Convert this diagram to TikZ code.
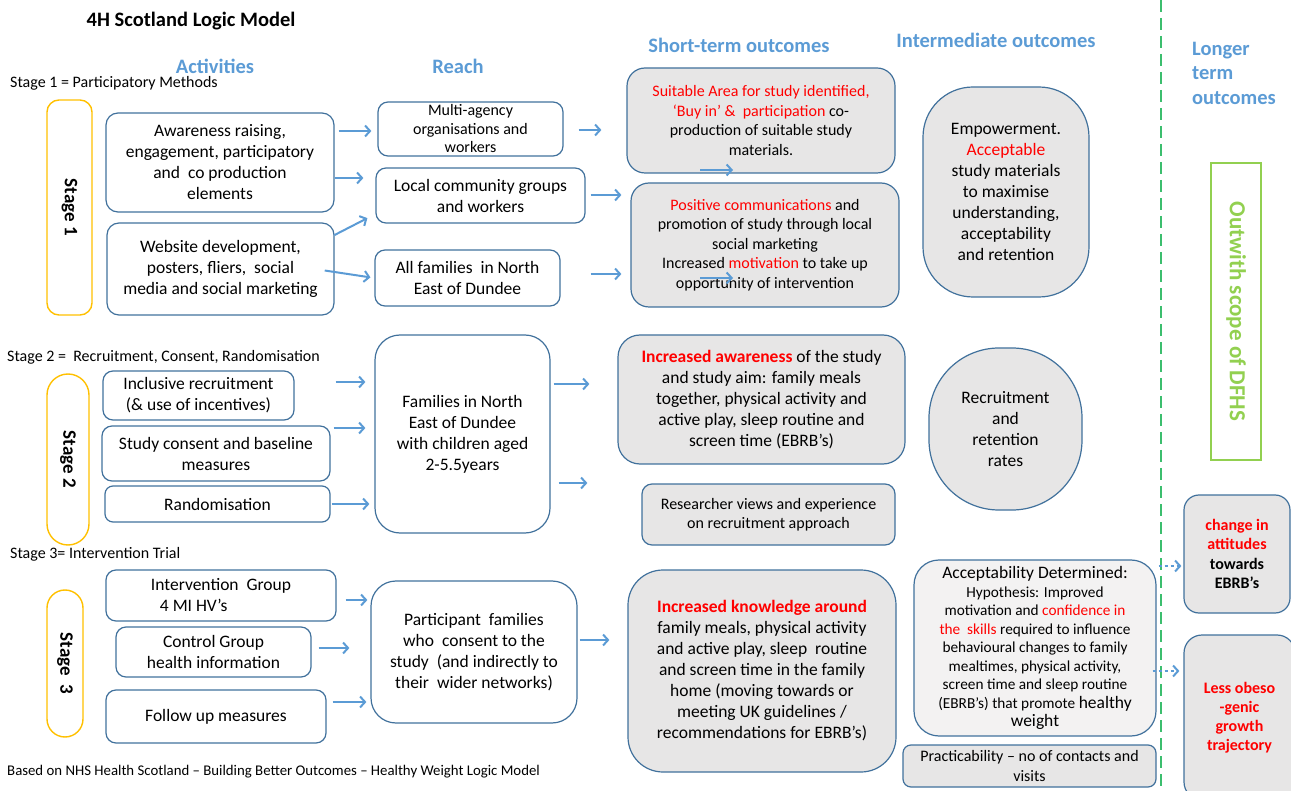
\documentclass[tikz,border=0pt]{standalone}
\usepackage{fontspec}
\setmainfont{Carlito}
\usetikzlibrary{arrows.meta}
\definecolor{boxblue}{RGB}{65,113,156}
\definecolor{arrblue}{RGB}{91,155,213}
\definecolor{boxgrey}{RGB}{231,230,230}
\definecolor{pillorange}{RGB}{255,192,0}
\definecolor{scopegreen}{RGB}{146,208,80}
\definecolor{lineg}{RGB}{60,190,110}
\newcommand{\fsbig}{\fontsize{17.5}{21}\selectfont}
\newcommand{\fssmall}{\fontsize{16}{19.5}\selectfont}
\newcommand{\hl}[1]{\textcolor{red}{#1}}
\tikzset{
    box/.style={draw=boxblue, line width=1.2pt, rounded corners=12pt, align=center, inner sep=2pt, font=\fsbig},
    outbox/.style={box, fill=boxgrey},
    pill/.style={draw=pillorange, line width=1.4pt, font=\fontsize{19}{22}\selectfont\bfseries, rotate=-90},
    head/.style={text=arrblue, inner sep=0pt, font=\fontsize{20.5}{24.5}\selectfont\bfseries},
    arr/.style={draw=arrblue, line width=2pt, -{Straight Barb[length=5pt,width=11pt]}},
}

\begin{document}
\begin{tikzpicture}[x=1pt,y=-1pt]
\useasboundingbox (0,0) rectangle (1291,791);
\node[font=\fontsize{20.5}{24}\selectfont\bfseries] (title) at (191,21) {4H Scotland Logic Model};
\node[head] (hact) at (215,66) {Activities};
\node[head] (hreach) at (458,66) {Reach};
\node[head] (hshort) at (739,45) {Short-term outcomes};
\node[head] (hint) at (996,40) {Intermediate outcomes};
\node[head, align=left, anchor=west] (hlong) at (1192,73) {Longer\\term\\outcomes};
\node[font=\fontsize{16}{19}\selectfont, anchor=west, inner sep=0] (cap1) at (10,83) {Stage 1 = Participatory Methods};
\node[font=\fontsize{16}{19}\selectfont, anchor=west, inner sep=0] (cap2) at (7,357) {Stage 2 =~ Recruitment, Consent, Randomisation};
\node[font=\fontsize{16}{19}\selectfont, anchor=west, inner sep=0] (cap3) at (10,554) {Stage 3= Intervention Trial};
\node[font=\fontsize{14.8}{18}\selectfont, anchor=west, inner sep=0] (foot) at (7,772) {Based on NHS Health Scotland -- Building Better Outcomes -- Healthy Weight Logic Model};

\draw[lineg, line width=2.5pt, dash pattern=on 12pt off 6pt] (1161,0) -- (1161,791);

\node[pill, minimum width=215, minimum height=45, rounded corners=12pt] (st1) at (69.5,207.5) {Stage 1};
\node[pill, minimum width=171, minimum height=42, rounded corners=21pt] (st2) at (68,459.5) {Stage 2};
\node[pill, minimum width=147, minimum height=36, rounded corners=18pt] (st3) at (65,663.5) {Stage~ 3};
\node[rotate=-90, draw=scopegreen, line width=1.2pt, minimum width=297, minimum height=50, text=scopegreen, font=\fontsize{23}{26}\selectfont\bfseries] (scope) at (1236,311.5) {Outwith scope of DFHS};

\node[box, minimum width=228, minimum height=99] (A1) at (220,162.5) {Awareness raising,\\ engagement, participatory\\ and~ co production\\ elements};
\node[box, minimum width=227, minimum height=92] (A2) at (220.5,269) {Website development,\\ posters, fliers,~ social\\ media and social marketing};
\node[box, font=\fontsize{16}{18.5}\selectfont, minimum width=185, minimum height=54, rounded corners=10pt] (R1) at (470.5,129) {Multi-agency\\ organisations and\\ workers};
\node[box, minimum width=209, minimum height=55, rounded corners=10pt] (R2) at (480.5,195.5) {Local community groups\\ and workers};
\node[box, minimum width=185, minimum height=56, rounded corners=10pt] (R3) at (467.5,278) {All families~ in North\\ East of Dundee};
\node[outbox, font=\fssmall, minimum width=268, minimum height=105, rounded corners=18pt] (S1) at (761,120.5) {\hl{Suitable Area for study identified,}\\ \hl{`Buy in' \&~ participation} co-\\ production of suitable study\\ materials.};
\node[outbox, font=\fssmall, minimum width=268, minimum height=124, rounded corners=18pt] (S2) at (765,245) {\hl{Positive communications} and\\ promotion of study through local\\ social marketing\\ Increased \hl{motivation} to take up\\ opportunity of intervention};
\node[outbox, minimum width=166, minimum height=210, rounded corners=50pt] (I1) at (1006,192) {Empowerment.\\ \hl{Acceptable}\\ study materials\\ to maximise\\ understanding,\\ acceptability\\ and retention};

\node[box, minimum width=191, minimum height=49, rounded corners=10pt] (A3) at (198.5,395.5) {Inclusive recruitment\\ (\& use of incentives)};
\node[box, minimum width=228, minimum height=55, rounded corners=10pt] (A4) at (216,453.5) {Study consent and baseline\\ measures};
\node[box, minimum width=225, minimum height=36, rounded corners=8pt] (A5) at (217.5,504) {Randomisation};
\node[box, minimum width=175, minimum height=198, rounded corners=25pt] (R4) at (462.5,434) {Families in North\\ East of Dundee\\ with children aged\\ 2-5.5years};
\node[outbox, minimum width=287, minimum height=129, rounded corners=22pt] (S3) at (761.5,399.5) {\textbf{\hl{Increased awareness}} of the study\\ and study aim: family meals\\ together, physical activity and\\ active play, sleep routine and\\ screen time (EBRB's)};
\node[outbox, font=\fssmall, minimum width=253, minimum height=61, rounded corners=10pt] (S4) at (768.5,514.5) {Researcher views and experience\\ on recruitment approach};
\node[outbox, minimum width=153, minimum height=162, rounded corners=70pt] (I2) at (1005.5,429) {Recruitment\\ and\\ retention\\ rates};

\node[box, align=left, minimum width=230, minimum height=51, rounded corners=10pt] (A6) at (221,595.5) {Intervention~ Group\\ \hspace*{9pt}4 MI HV's};
\node[box, minimum width=195, minimum height=50, rounded corners=10pt] (A7) at (213.5,652) {Control Group\\ health information};
\node[box, minimum width=220, minimum height=53, rounded corners=10pt] (A8) at (216,716.5) {Follow up measures};
\node[box, minimum width=206, minimum height=142, rounded corners=25pt] (R5) at (474,652) {Participant~ families\\ who~ consent to the\\ study~ (and indirectly to\\ their~ wider networks)};
\node[outbox, minimum width=268, minimum height=202, rounded corners=35pt] (S5) at (762,671) {\textbf{\hl{Increased knowledge around}}\\ family meals, physical activity\\ and active play, sleep~ routine\\ and screen time in the family\\ home (moving towards or\\ meeting UK guidelines /\\ recommendations for EBRB's)};
\node[box, fill=boxgrey!50, font=\fontsize{15.3}{18.5}\selectfont, minimum width=242, minimum height=176, rounded corners=25pt] (I3) at (1035,648) {{\fsbig Acceptability Determined:}\\ Hypothesis: Improved\\ motivation and \hl{confidence in}\\ \hl{the~ skills} required to influence\\ behavioural changes to family\\ mealtimes, physical activity,\\ screen time and sleep routine\\ (EBRB's) that promote {\fsbig healthy}\\ {\fsbig weight}};
\node[outbox, font=\fssmall, minimum width=253, minimum height=42, rounded corners=8pt] (I4) at (1029.5,766) {Practicability -- no of contacts and\\ visits};
\node[outbox, font=\fontsize{16}{19.5}\selectfont\bfseries, minimum width=106, minimum height=118, rounded corners=15pt] (L1) at (1237,554) {\hl{change in}\\ \hl{attitudes}\\ towards\\ EBRB's};
\node[outbox, font=\fontsize{16}{19}\selectfont\bfseries, minimum width=111, minimum height=165, rounded corners=18pt] (L2) at (1239.5,717.5) {\hl{Less obeso}\\ \hl{-genic}\\ \hl{growth}\\ \hl{trajectory}};

\draw[arr, shorten <=4pt, shorten >=6pt] (A1.east |- 0,131) -- (R1.west |- 0,131);
\draw[arr, shorten >=12pt] (A1.east |- 0,178) -- (R2.west |- 0,178);
\draw[arr, shorten >=9pt] (A2.east |- 0,235) -- (R2.west |- 0,214);
\draw[arr, shorten <=-10pt, shorten >=4pt] (A2.east |- 0,272) -- (R3.west |- 0,278);
\draw[arr, shorten <=15pt, shorten >=25pt] (R1.east |- 0,130) -- (S1.west |- 0,130);
\draw[arr, shorten <=5pt, shorten >=9pt] (R2.east |- 0,195) -- (S2.west |- 0,195);
\draw[arr, shorten <=30pt, shorten >=9pt] (R3.east |- 0,274) -- (S2.west |- 0,274);
\coordinate (s1a) at (700,170);
\coordinate (s1b) at (733,170);
\coordinate (s2a) at (700,278);
\coordinate (s2b) at (733,278);
\draw[arr] (s1a) -- (s1b);
\draw[arr] (s2a) -- (s2b);
\draw[arr, shorten <=41pt, shorten >=9pt] (A3.east |- 0,382) -- (R4.west |- 0,382);
\draw[arr, shorten <=3pt, shorten >=9pt] (A4.east |- 0,428) -- (R4.west |- 0,428);
\draw[arr, shorten <=1pt, shorten >=5pt] (A5.east |- 0,504) -- (R4.west |- 0,504);
\draw[arr, shorten <=3pt, shorten >=28pt] (R4.east |- 0,384) -- (S3.west |- 0,384);
\draw[arr, shorten <=8pt, shorten >=54pt] (R4.east |- 0,483) -- (S4.west |- 0,483);
\draw[arr, shorten <=9pt, shorten >=3pt] (A6.east |- 0,600) -- (R5.west |- 0,600);
\draw[arr, shorten <=7pt, shorten >=21pt] (A7.east |- 0,648) -- (R5.west |- 0,648);
\draw[arr, shorten <=6pt, shorten >=4pt] (A8.east |- 0,702) -- (R5.west |- 0,702);
\draw[arr, shorten <=2pt, shorten >=18pt] (R5.east |- 0,640) -- (S5.west |- 0,640);
\draw[arr, dashed, shorten <=2pt, shorten >=2pt] (I3.east |- 0,566) -- (L1.west |- 0,566);
\draw[arr, dashed, shorten <=-4pt, shorten >=4pt] (I3.east |- 0,671) -- (L2.west |- 0,671);
\end{tikzpicture}
\end{document}
